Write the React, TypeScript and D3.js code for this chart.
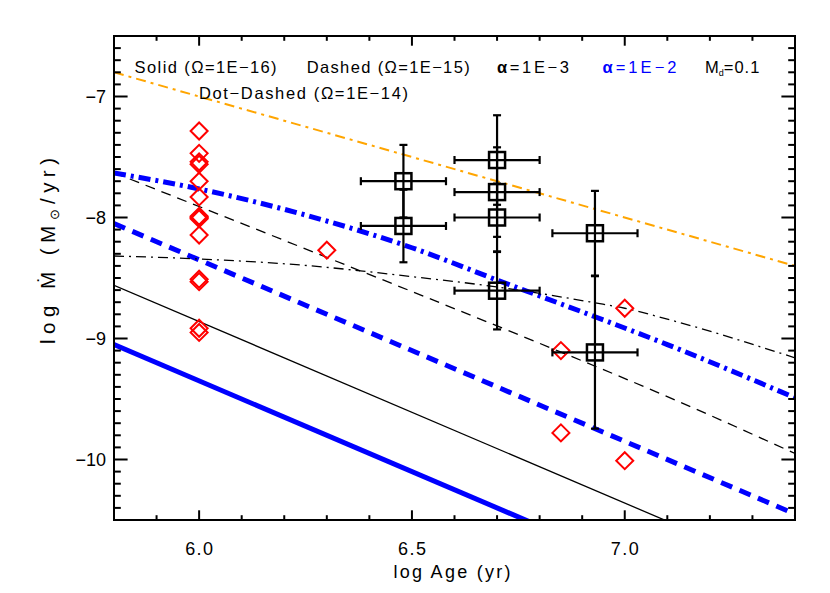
import React from "react";
import * as d3 from "d3";

// ---------- data ----------
const redAge = [6.0, 6.0, 6.0, 6.0, 6.0, 6.0, 6.0, 6.0, 6.0, 6.0, 6.0, 6.0, 6.0, 6.0, 6.3, 6.85, 6.85, 7.0, 7.0];
const redMdot = [-7.285, -7.47, -7.54, -7.56, -7.7, -7.83, -7.99, -8.0, -8.01, -8.145, -8.51, -8.53, -8.915, -8.95, -8.27, -9.1, -9.78, -8.75, -10.01];

const sqAge = [6.48, 6.48, 6.7, 6.7, 6.7, 6.7, 6.93, 6.93];
const sqMdot = [-7.7, -8.07, -7.525, -7.79, -8.0, -8.605, -8.13, -9.115];
const sqAgeErr = [0.1, 0.1, 0.1, 0.1, 0.1, 0.1, 0.1, 0.1];
const sqMdotErr = [0.3, 0.3, 0.37, 0.37, 0.28, 0.32, 0.35, 0.63];

const straightAge = [5.8, 7.4];
const solidBlue = [-9.05, -11.45];
const solidBlack = [-8.56, -10.96];
const dashedBlue = [-8.05, -10.45];
const orangeLine = [-6.8, -8.4];

const dashedBlackAge = [5.8, 6.3, 6.8, 7.1, 7.4];
const dashedBlack = [-7.63, -8.33, -9.04, -9.48, -9.95];

const dotDashBlackAge = [5.8, 6.0, 6.24, 6.5, 6.7, 6.93, 7.0, 7.1, 7.4];
const dotDashBlack = [-8.318, -8.343, -8.393, -8.489, -8.574, -8.705, -8.75, -8.84, -9.16];

const dotDashBlueAge = [5.8, 6.0, 6.25, 6.5, 6.7, 6.93, 7.1, 7.4];
const dotDashBlue = [-7.632, -7.764, -7.98, -8.25, -8.517, -8.82, -9.05, -9.49];

const xTickLabels = ["6.0", "6.5", "7.0"];
const xTickValues = [6.0, 6.5, 7.0];
const yTickLabels = ["−7", "−8", "−9", "−10"];
const yTickValues = [-7, -8, -9, -10];

// ---------- layout ----------
const W = 830, H = 593;
const L = 114, R = 795, T = 36, B = 520;
const FONT = "'Liberation Sans', Arial, sans-serif";

export default function App() {
  const x = d3.scaleLinear().domain([5.8, 7.4]).range([L, R]);
  const y = d3.scaleLinear().domain([-10.5, -6.5]).range([B, T]);

  const mk = (ages: number[], vals: number[], curve = d3.curveLinear) =>
    d3.line<number>().x((_, i) => x(ages[i])).y((v) => y(v)).curve(curve)(vals) || "";

  const xMinor = d3.range(59, 74).map((v) => v / 10);
  const yMinor = d3.range(-104, -65).map((v) => v / 10);
  const isMajX = (v: number) => Math.abs(v * 2 - Math.round(v * 2)) < 1e-6;
  const isMajY = (v: number) => Math.abs(v - Math.round(v)) < 1e-6;
  const xMaj = 9.7, xMin = 4.8, yMaj = 13.6, yMin = 6.8;

  const r = 8.5;
  const diamond = `M0,${-r}L${r},0L0,${r}L${-r},0Z`;
  const s = 8;
  const cap = 4;

  return (
    <svg width={W} height={H} style={{ position: "absolute", left: 0, top: 0, background: "#fff" }}
      fontFamily={FONT}>
      <defs>
        <clipPath id="plotclip">
          <rect x={L} y={T} width={R - L} height={B - T} />
        </clipPath>
      </defs>
      <rect x={0} y={0} width={W} height={H} fill="#fff" />

      <g clipPath="url(#plotclip)" fill="none">
        <path d={mk(straightAge, orangeLine)} stroke="#ffa500" strokeWidth={2} strokeDasharray="10 5 3 5" />
        <path d={mk(straightAge, solidBlue)} stroke="#0000ff" strokeWidth={5} />
        <path d={mk(straightAge, solidBlack)} stroke="#000" strokeWidth={1.3} />
        <path d={mk(straightAge, dashedBlue)} stroke="#0000ff" strokeWidth={5} strokeDasharray="12 8" />
        <path d={mk(dashedBlackAge, dashedBlack, d3.curveMonotoneX)} stroke="#000" strokeWidth={1.3} strokeDasharray="10 7" />
        <path d={mk(dotDashBlackAge, dotDashBlack, d3.curveMonotoneX)} stroke="#000" strokeWidth={1.3} strokeDasharray="10 5 2 5" />
        <path d={mk(dotDashBlueAge, dotDashBlue, d3.curveMonotoneX)} stroke="#0000ff" strokeWidth={5} strokeDasharray="12 5 3 5" />
      </g>

      {/* red diamonds */}
      <g fill="none" stroke="#ff0000" strokeWidth={2}>
        {redAge.map((a, i) => (
          <path key={i} d={diamond} transform={`translate(${x(a)},${y(redMdot[i])})`} />
        ))}
      </g>

      {/* squares with error bars */}
      <g fill="none" stroke="#000" strokeWidth={2.2}>
        {sqAge.map((a, i) => {
          const cx = x(a), cy = y(sqMdot[i]);
          const x0 = x(a - sqAgeErr[i]), x1 = x(a + sqAgeErr[i]);
          const y0 = y(sqMdot[i] + sqMdotErr[i]), y1 = y(sqMdot[i] - sqMdotErr[i]);
          return (
            <g key={i}>
              <line x1={x0} x2={x1} y1={cy} y2={cy} />
              <line x1={x0} x2={x0} y1={cy - cap} y2={cy + cap} />
              <line x1={x1} x2={x1} y1={cy - cap} y2={cy + cap} />
              <line x1={cx} x2={cx} y1={y0} y2={y1} />
              <line x1={cx - cap} x2={cx + cap} y1={y0} y2={y0} />
              <line x1={cx - cap} x2={cx + cap} y1={y1} y2={y1} />
              <rect x={cx - s} y={cy - s} width={2 * s} height={2 * s} strokeWidth={2.5} />
            </g>
          );
        })}
      </g>

      {/* axes box and ticks */}
      <g stroke="#000" strokeWidth={2} fill="none">
        <rect x={L} y={T} width={R - L} height={B - T} />
        {xMinor.map((v, i) => {
          const len = isMajX(v) ? xMaj : xMin;
          return (
            <g key={"x" + i}>
              <line x1={x(v)} x2={x(v)} y1={B} y2={B - len} />
              <line x1={x(v)} x2={x(v)} y1={T} y2={T + len} />
            </g>
          );
        })}
        {yMinor.map((v, i) => {
          const len = isMajY(v) ? yMaj : yMin;
          return (
            <g key={"y" + i}>
              <line x1={L} x2={L + len} y1={y(v)} y2={y(v)} />
              <line x1={R} x2={R - len} y1={y(v)} y2={y(v)} />
            </g>
          );
        })}
      </g>

      {/* tick labels */}
      <g fontSize={18} fill="#000">
        {xTickValues.map((v, i) => (
          <text key={i} x={x(v)} y={555} textAnchor="middle" textLength={28} lengthAdjust="spacing">{xTickLabels[i]}</text>
        ))}
        {yTickValues.map((v, i) => (
          <text key={i} x={106} y={y(v) + 6.5} textAnchor="end">{yTickLabels[i]}</text>
        ))}
      </g>

      {/* axis titles */}
      <text x={452} y={578} fontSize={18} textAnchor="middle" textLength={117} lengthAdjust="spacing">log Age (yr)</text>
      <text transform="translate(55,251) rotate(-90)" fontSize={20.5} textAnchor="middle" textLength={186} lengthAdjust="spacing">
        log Ṁ (M<tspan fontSize={13} dy={4}>⊙</tspan><tspan dy={-4}>/yr)</tspan>
      </text>

      {/* legend texts */}
      <g fontSize={16.5} fill="#000">
        <text x={134.6} y={73} textLength={142} lengthAdjust="spacing">Solid (Ω=1E−16)</text>
        <text x={306.7} y={73} textLength={163} lengthAdjust="spacing">Dashed (Ω=1E−15)</text>
        <text x={497} y={73} textLength={72} lengthAdjust="spacing"><tspan fontWeight="bold">α</tspan>=1E−3</text>
        <text x={602.5} y={73} fill="#0000ff" textLength={74} lengthAdjust="spacing"><tspan fontWeight="bold">α</tspan>=1E−2</text>
        <text x={705} y={73}>M<tspan fontSize={9} dy={3}>d</tspan><tspan dy={-3} letterSpacing={1}>=0.1</tspan></text>
        <text x={199} y={98.5} textLength={209} lengthAdjust="spacing">Dot−Dashed (Ω=1E−14)</text>
      </g>
    </svg>
  );
}
